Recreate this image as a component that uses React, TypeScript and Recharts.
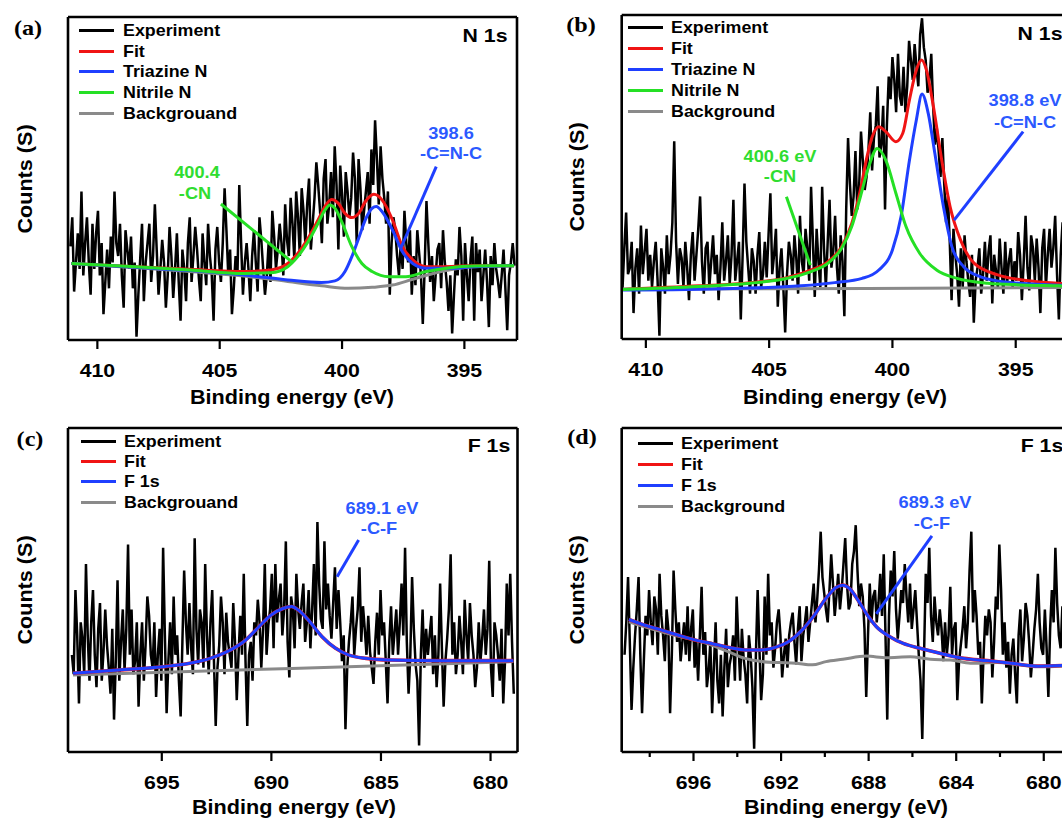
import React from 'react';
import { LineChart, Line, XAxis, YAxis, ReferenceLine } from 'recharts';

type P = [number, number];

const SANS = '"Liberation Sans", Arial, Helvetica, sans-serif';
const SERIF = '"Liberation Serif", "Times New Roman", serif';
const C_RED = '#f01414';
const C_BLUE = '#1f3fff';
const C_GREEN = '#25e025';
const C_GRAY = '#8a8a8a';
const C_BLUE_T = '#2b59ff';
const C_GREEN_T = '#30dd30';

// ---------- tick labels ----------
const nTicks = [410, 405, 400, 395];
const cTicks = [695, 690, 685, 680];
const dTicks = [698, 696, 694, 692, 690, 688, 686, 684, 682, 680];
const dMajor = [696, 692, 688, 684, 680];

// ---------- panel (a) N 1s ----------
const aStart = 411.1;
const aStep = 0.075;
const aExp = [29,38,15,24,33,22,46,20,30,38,
24,14,36,22,33,40,20,30,8,18,
28,16,32,24,46,30,26,36,20,10,
34,28,22,32,16,24,1,14,25,36,
12,24,30,36,18,26,42,28,14,22,
31,24,10,20,35,26,13,22,33,18,
6,28,22,12,30,38,18,26,35,28,
19,12,33,24,17,36,26,20,6,28,
35,24,18,30,47,34,20,28,8,16,
26,20,48,30,14,24,30,22,12,26,
34,24,15,38,31,22,14,20,30,18,
40,32,22,28,36,30,20,42,31,26,
44,36,25,46,38,26,47,40,30,42,
50,28,36,44,55,48,40,30,50,56,
36,42,52,38,60,48,28,54,45,32,
52,46,38,44,58,50,30,56,47,34,
40,46,52,36,59,48,68,56,42,60,
50,44,36,46,14,30,38,34,26,20,
30,22,40,30,24,34,14,26,17,34,
27,20,5,22,43,30,18,26,12,20,
28,30,16,34,24,18,9,20,2,14,
25,20,35,26,6,30,20,12,25,32,
6,30,21,28,12,20,28,18,4,26,
17,30,22,18,13,20,28,16,3,20,
24,30,23];
const aFit: P[] = [[411.06,23.7],[408.44,22.7],[406.23,21.9],[404.02,21.2],[402.91,21.7],[402.22,23.7],[401.81,26.8],[401.39,31.5],[400.98,37.2],[400.7,41.3],[400.43,43.5],[400.15,42.3],[399.88,39.2],[399.6,37.9],[399.32,39.2],[399.05,42.8],[398.7,45.1],[398.36,43.3],[397.94,37.2],[397.53,28.9],[397.11,24.8],[396.56,22.7],[396.01,22.7],[394.63,23.0],[392.97,23.0]];
const aNitrile: P[] = [[411.06,23.7],[408.44,22.7],[406.23,21.7],[404.02,20.6],[402.91,20.8],[402.22,22.7],[401.81,25.8],[401.39,30.4],[400.98,36.1],[400.7,40.2],[400.5,41.8],[400.29,40.8],[400.01,36.6],[399.6,28.9],[399.19,23.7],[398.77,21.2],[398.08,19.6],[397.39,19.6],[396.56,21.2],[395.59,22.4],[394.63,22.9],[392.97,23.0]];
const aTriazine: P[] = [[411.06,23.7],[408.44,22.5],[406.23,21.5],[404.02,20.1],[402.22,18.6],[400.84,17.8],[400.29,18.3],[399.88,21.2],[399.6,25.8],[399.32,31.5],[399.05,37.2],[398.77,40.8],[398.6,41.3],[398.36,39.7],[397.94,34.1],[397.53,27.3],[397.11,23.7],[396.56,22.2],[395.59,22.2],[394.63,22.7],[392.97,23.0]];
const aBackground: P[] = [[411.06,23.7],[408.44,22.4],[406.23,21.2],[404.02,19.8],[402.22,18.1],[400.84,16.8],[399.74,16.0],[398.77,16.3],[397.94,17.0],[397.11,18.8],[396.28,20.6],[395.46,21.9],[394.63,22.7],[392.97,23.0]];
const aGreenLead: P[] = [[404.95,42.1],[402.04,24.1]];
const aBlueLead: P[] = [[396.15,53.7],[397.6,28.4]];

// ---------- panel (b) N 1s ----------
const bStart = 410.95;
const bStep = 0.075;
const bExp = [15,28,39,20,22,30,8,22,28,14,
35,20,27,34,18,26,16,24,30,18,
1,28,22,14,32,20,26,36,61,30,
17,28,25,16,30,22,12,26,33,18,
26,34,44,24,14,28,30,16,24,32,
20,26,12,22,36,18,24,32,17,26,
43,18,24,30,6,26,48,30,22,14,
28,24,14,26,33,16,20,30,19,32,
45,20,26,34,10,22,28,16,2,20,
30,26,18,32,25,14,38,24,20,34,
28,18,47,30,13,34,24,16,47,28,
16,30,43,22,27,38,22,14,32,24,
7,40,62,48,38,44,58,40,47,64,
55,46,50,58,70,52,62,66,78,56,
60,72,40,66,81,74,87,80,70,88,
75,72,84,70,78,92,86,80,91,84,
78,94,99,90,86,76,80,88,72,60,
65,58,50,62,48,36,44,30,12,34,
26,20,10,28,16,32,24,18,13,26,
5,18,22,28,14,20,30,18,27,32,
11,26,21,16,31,22,14,30,17,24,
28,16,24,18,33,26,12,24,38,22,
15,32,28,18,31,22,8,28,34,16,
26,34,22,28,38,20,6,26,36,30,
18,36,30];
const bFit: P[] = [[410.94,15.3],[407.84,16.4],[405.78,17.4],[404.4,18.7],[403.3,21.3],[402.61,23.9],[402.06,28.5],[401.65,35.7],[401.3,46.0],[401.03,56.3],[400.82,62.4],[400.55,65.5],[400.27,64.0],[399.86,60.9],[399.58,63.5],[399.31,73.8],[399.03,83.0],[398.82,86.1],[398.62,83.0],[398.34,71.8],[398.0,55.2],[397.66,40.8],[397.24,30.6],[396.69,23.4],[395.73,19.8],[394.49,18.0],[393.25,17.2],[392.8,17.0]];
const bNitrile: P[] = [[410.94,15.3],[407.84,16.2],[405.78,17.2],[404.4,18.5],[403.3,20.8],[402.61,23.4],[402.06,28.0],[401.65,34.7],[401.3,43.9],[400.96,53.2],[400.62,58.8],[400.27,55.2],[399.86,45.0],[399.45,34.7],[398.89,26.4],[398.21,21.3],[397.38,18.7],[396.14,17.2],[394.77,16.7],[393.25,16.4],[392.8,16.3]];
const bTriazine: P[] = [[410.94,15.1],[406.46,15.6],[403.71,16.4],[402.34,17.4],[401.23,18.7],[400.55,21.3],[400.0,27.5],[399.65,37.8],[399.31,55.2],[399.03,67.6],[398.8,75.6],[398.55,69.7],[398.28,57.3],[397.93,40.8],[397.59,28.5],[397.11,22.3],[396.42,19.2],[395.18,17.4],[393.25,16.6],[392.8,16.5]];
const bBackground: P[] = [[410.94,15.4],[401.0,15.6],[392.8,15.9]];
const bGreenLead: P[] = [[404.3,43.9],[403.33,22.8]];
const bBlueLead: P[] = [[394.7,64.0],[397.5,36.7]];

// ---------- panel (c) F 1s ----------
const cStart = 699.1;
const cStep = 0.08;
const cExp = [30,24,50,36,15,40,35,24,58,36,
22,40,50,30,20,38,46,22,31,44,
33,26,18,38,10,28,53,22,34,44,
25,38,64,30,44,24,28,40,14,30,
40,22,33,48,42,30,26,40,17,30,
38,22,63,36,12,28,40,24,48,30,
36,22,11,34,56,40,30,46,32,24,
66,38,27,44,40,26,58,36,24,40,
50,28,8,26,33,48,40,24,43,34,
30,26,46,34,16,30,42,30,55,28,
8,30,34,22,40,36,47,40,26,38,
58,30,39,44,55,32,58,40,47,52,
36,44,65,34,23,48,44,32,55,44,
38,46,52,34,40,50,32,44,58,36,
71,52,41,38,65,44,52,42,35,46,
57,38,50,40,28,36,7,26,34,40,
48,30,38,44,57,34,45,38,30,42,
31,26,21,34,43,30,50,36,40,28,
15,34,45,30,37,44,30,40,52,36,
63,34,18,30,54,38,27,22,2,30,
44,26,38,30,36,42,24,36,20,30,
52,32,14,28,35,44,61,30,40,24,
30,42,34,24,47,36,28,46,36,30,
20,26,40,28,35,44,30,38,59,26,
17,40,36,30,22,38,15,28,52,36,
55,34,18];
const cFit: P[] = [[699.05,24.3],[696.96,25.3],[694.95,26.3],[693.72,27.4],[692.79,28.9],[691.86,31.5],[691.25,34.1],[690.63,38.2],[690.01,42.3],[689.47,44.3],[689.08,44.9],[688.77,43.8],[688.31,40.7],[687.69,35.6],[687.07,32.0],[686.46,29.9],[685.68,28.9],[684.6,28.4],[682.29,28.2],[678.96,28.2]];
const cF1s: P[] = [[699.05,24.3],[696.96,25.3],[694.95,26.3],[693.72,27.4],[692.79,28.9],[691.86,31.5],[691.25,34.1],[690.63,38.2],[690.01,42.3],[689.47,44.3],[689.08,44.9],[688.77,43.8],[688.31,40.7],[687.69,35.6],[687.07,32.0],[686.46,29.9],[685.68,28.9],[684.6,28.4],[682.29,28.2],[678.96,28.2]];
const cBackground: P[] = [[699.05,23.8],[689.08,25.8],[678.96,27.9]];
const cBlueLead: P[] = [[686.02,65.4],[687.0,54.1]];

// ---------- panel (d) F 1s ----------
const dStart = 699.15;
const dStep = 0.08;
const dExp = [30,40,54,34,13,26,36,44,54,30,
12,28,42,36,50,40,33,48,44,30,
55,42,36,28,44,38,12,30,56,44,
34,40,28,34,40,30,45,28,38,44,
26,34,22,36,51,30,37,20,25,34,
12,26,40,22,15,30,11,26,38,20,
27,30,36,22,48,34,22,38,29,24,
15,36,30,20,1,30,50,32,16,24,
48,30,55,36,40,26,32,40,44,36,
23,30,35,26,36,40,43,34,27,38,
45,28,36,40,45,34,40,46,52,40,
47,56,68,54,49,44,40,50,61,52,
42,48,55,44,50,58,66,52,44,46,
58,62,70,56,45,52,48,38,17,36,
52,40,48,50,40,46,55,42,61,36,
10,42,56,48,62,44,35,42,50,46,
58,48,40,52,38,44,50,40,30,22,
4,30,55,46,63,42,34,48,40,36,
44,38,28,40,30,36,51,30,38,40,
16,28,33,38,45,32,40,56,68,40,
50,42,30,34,15,30,42,36,44,40,
23,34,48,44,64,50,30,40,26,34,
18,30,35,24,15,36,44,28,35,46,
42,34,23,30,38,44,55,40,32,30,
44,32,17,38,50,40,63,46,36,32,
45,34,20,40,55];
const dFit: P[] = [[698.95,40.9],[698.26,39.2],[697.49,37.7],[696.72,36.1],[695.95,34.6],[695.18,33.5],[694.42,32.3],[693.65,31.5],[692.88,31.5],[692.26,32.3],[691.65,34.1],[691.03,37.7],[690.42,42.8],[689.95,47.4],[689.49,50.8],[689.18,51.5],[688.88,50.5],[688.49,46.9],[688.11,42.8],[687.65,38.7],[687.03,35.6],[686.42,33.5],[685.65,32.0],[684.88,30.7],[683.65,28.9],[682.57,28.2],[681.49,27.4],[680.26,26.5],[678.85,26.8]];
const dF1s: P[] = [[698.95,40.9],[698.26,39.2],[697.49,37.7],[696.72,36.1],[695.95,34.6],[695.18,33.5],[694.42,32.3],[693.65,31.5],[692.88,31.5],[692.26,32.3],[691.65,34.1],[691.03,37.7],[690.42,42.8],[689.95,47.4],[689.49,50.8],[689.18,51.5],[688.88,50.5],[688.49,46.9],[688.11,42.8],[687.65,38.7],[687.03,35.6],[686.42,33.5],[685.65,32.0],[684.88,30.7],[683.65,28.9],[682.57,28.2],[681.49,27.4],[680.26,26.5],[678.85,26.8]];
const dBackground: P[] = [[698.95,40.2],[698.26,38.7],[697.49,37.2],[696.72,35.8],[695.95,34.6],[695.18,33.0],[694.42,31.0],[693.65,28.9],[692.88,27.9],[692.11,27.6],[691.34,27.4],[690.57,26.9],[689.95,27.9],[689.18,28.6],[688.11,29.6],[687.18,29.1],[686.11,29.4],[685.18,28.6],[684.26,28.4],[683.34,27.4],[682.11,27.6],[681.18,26.9],[680.26,26.3],[678.85,26.6]];
const dBlueLead: P[] = [[685.11,66.7],[687.65,42.6]];

// ---------- helpers ----------
type Row = { e: number; v: number };
const toRows = (pts: P[]): Row[] => pts.map(([e, v]) => ({ e, v }));
const expRows = (start: number, step: number, vals: number[]): Row[] =>
  vals.map((v, i) => ({ e: Math.round((start - i * step) * 1000) / 1000, v }));

type Curve = { rows: Row[]; color: string; w: number; name: string };
type Seg = { pts: P[]; color: string };
interface Cfg {
  left: number; top: number; W: number; H: number;
  margin: { top: number; right: number; bottom: number; left: number };
  domain: [number, number];
  ticks: number[]; majors: number[];
  exp: Row[]; curves: Curve[]; segs: Seg[];
}

function Panel({ c }: { c: Cfg }) {
  const tick = (props: any) => {
    const { x, y, payload } = props;
    const val = payload.value;
    const major = c.majors.includes(val);
    return (
      <g>
        <line x1={x} y1={y} x2={x} y2={y + (major ? 9 : 5)} stroke="#000" strokeWidth={2.2} />
        {major && (
          <text transform={`translate(${x},${y + 37}) scale(1.12,1)`} textAnchor="middle"
            fontFamily={SANS} fontWeight={700} fontSize={19} fill="#000">{val}</text>
        )}
      </g>
    );
  };
  const axisLine = { stroke: '#000', strokeWidth: 2.6 };
  return (
    <div style={{ position: 'absolute', left: c.left, top: c.top, width: c.W, height: c.H }}>
      <LineChart width={c.W} height={c.H} margin={c.margin}>
        <XAxis xAxisId="b" type="number" dataKey="e" domain={c.domain} reversed allowDataOverflow
          ticks={c.ticks} interval={0} tickSize={0} tickMargin={0} tickLine={false} tick={tick}
          axisLine={axisLine} height={2} />
        <XAxis xAxisId="t" orientation="top" type="number" dataKey="e" domain={c.domain} reversed
          allowDataOverflow tick={false} tickLine={false} axisLine={axisLine} height={2} />
        <YAxis yAxisId="l" type="number" domain={[0, 100]} allowDataOverflow tick={false}
          tickLine={false} axisLine={axisLine} width={2} />
        <YAxis yAxisId="r" orientation="right" type="number" domain={[0, 100]} allowDataOverflow
          tick={false} tickLine={false} axisLine={axisLine} width={2} />
        <Line xAxisId="b" yAxisId="l" data={c.exp} dataKey="v" name="Experiment" type="linear"
          stroke="#000" strokeWidth={2.5} dot={false} activeDot={false} isAnimationActive={false} />
        {c.curves.map((cv, i) => (
          <Line key={i} xAxisId="b" yAxisId="l" data={cv.rows} dataKey="v" name={cv.name}
            type="monotone" stroke={cv.color} strokeWidth={cv.w} dot={false} activeDot={false}
            isAnimationActive={false} />
        ))}
        {c.segs.map((s, i) => (
          <ReferenceLine key={'s' + i} xAxisId="b" yAxisId="l" ifOverflow="visible"
            segment={[{ x: s.pts[0][0], y: s.pts[0][1] }, { x: s.pts[1][0], y: s.pts[1][1] }]}
            stroke={s.color} strokeWidth={3} />
        ))}
      </LineChart>
    </div>
  );
}

function T({ x, y, s = 20, c = '#000', f = SANS, sx = 1.08, rot = 0, children }:
  { x: number; y: number; s?: number; c?: string; f?: string; sx?: number; rot?: number; children: React.ReactNode }) {
  return (
    <div style={{
      position: 'absolute', left: x, top: y,
      transform: `translate(-50%,-50%)${rot ? ` rotate(${rot}deg)` : ''} scaleX(${sx})`,
      fontFamily: f, fontWeight: 700, fontSize: s, color: c, whiteSpace: 'nowrap', lineHeight: 1,
    }}>{children}</div>
  );
}

function Legend({ x, tx, ys, items }: { x: number; tx: number; ys: number[]; items: { label: string; color: string }[] }) {
  return (
    <>
      {items.map((it, i) => (
        <React.Fragment key={i}>
          <div style={{ position: 'absolute', left: x, top: ys[i] - 1.5, width: 35, height: 3, background: it.color }} />
          <div style={{
            position: 'absolute', left: tx, top: ys[i], transform: 'translateY(-50%) scaleX(1.05)',
            transformOrigin: 'left center', fontFamily: SANS, fontWeight: 700, fontSize: 17,
            lineHeight: 1, whiteSpace: 'nowrap', color: '#000',
          }}>{it.label}</div>
        </React.Fragment>
      ))}
    </>
  );
}

const aLegend = [
  { label: 'Experiment', color: '#000' }, { label: 'Fit', color: C_RED },
  { label: 'Triazine N', color: C_BLUE }, { label: 'Nitrile N', color: C_GREEN },
  { label: 'Backgrouand', color: C_GRAY },
];
const bLegend = [
  { label: 'Experiment', color: '#000' }, { label: 'Fit', color: C_RED },
  { label: 'Triazine N', color: C_BLUE }, { label: 'Nitrile N', color: C_GREEN },
  { label: 'Background', color: C_GRAY },
];
const cLegend = [
  { label: 'Experiment', color: '#000' }, { label: 'Fit', color: C_RED },
  { label: 'F 1s', color: C_BLUE }, { label: 'Backgrouand', color: C_GRAY },
];
const dLegend = [
  { label: 'Experiment', color: '#000' }, { label: 'Fit', color: C_RED },
  { label: 'F 1s', color: C_BLUE }, { label: 'Background', color: C_GRAY },
];

export default function App() {
  const A: Cfg = {
    left: 0, top: 0, W: 531, H: 410,
    margin: { top: 15, left: 66, right: 12, bottom: 68 },
    domain: [392.85, 411.2], ticks: nTicks, majors: nTicks,
    exp: expRows(aStart, aStep, aExp),
    curves: [
      { rows: toRows(aBackground), color: C_GRAY, w: 3, name: 'Backgrouand' },
      { rows: toRows(aFit), color: C_RED, w: 3, name: 'Fit' },
      { rows: toRows(aTriazine), color: C_BLUE, w: 3, name: 'Triazine N' },
      { rows: toRows(aNitrile), color: C_GREEN, w: 3, name: 'Nitrile N' },
    ],
    segs: [{ pts: aGreenLead, color: C_GREEN }, { pts: aBlueLead, color: C_BLUE }],
  };
  const B: Cfg = {
    left: 531, top: 0, W: 560, H: 410,
    margin: { top: 13, left: 88.7, right: 18.3, bottom: 69 },
    domain: [392.77, 410.98], ticks: nTicks, majors: nTicks,
    exp: expRows(bStart, bStep, bExp),
    curves: [
      { rows: toRows(bBackground), color: C_GRAY, w: 3, name: 'Background' },
      { rows: toRows(bFit), color: C_RED, w: 3, name: 'Fit' },
      { rows: toRows(bTriazine), color: C_BLUE, w: 3, name: 'Triazine N' },
      { rows: toRows(bNitrile), color: C_GREEN, w: 3, name: 'Nitrile N' },
    ],
    segs: [{ pts: bGreenLead, color: C_GREEN }, { pts: bBlueLead, color: C_BLUE }],
  };
  const Cc: Cfg = {
    left: 0, top: 410, W: 531, H: 411,
    margin: { top: 16, left: 66, right: 11.5, bottom: 67 },
    domain: [678.77, 699.28], ticks: cTicks, majors: cTicks,
    exp: expRows(cStart, cStep, cExp),
    curves: [
      { rows: toRows(cBackground), color: C_GRAY, w: 3, name: 'Backgrouand' },
      { rows: toRows(cFit), color: C_RED, w: 3.6, name: 'Fit' },
      { rows: toRows(cF1s), color: C_BLUE, w: 3, name: 'F 1s' },
    ],
    segs: [{ pts: cBlueLead, color: C_BLUE }],
  };
  const D: Cfg = {
    left: 531, top: 410, W: 560, H: 411,
    margin: { top: 16, left: 88.7, right: 18.3, bottom: 67 },
    domain: [678.77, 699.28], ticks: dTicks, majors: dMajor,
    exp: expRows(dStart, dStep, dExp),
    curves: [
      { rows: toRows(dBackground), color: C_GRAY, w: 3, name: 'Background' },
      { rows: toRows(dFit), color: C_RED, w: 3.6, name: 'Fit' },
      { rows: toRows(dF1s), color: C_BLUE, w: 3, name: 'F 1s' },
    ],
    segs: [{ pts: dBlueLead, color: C_BLUE }],
  };

  return (
    <div style={{ position: 'fixed', left: 0, top: 0, width: 1062, height: 821, overflow: 'hidden', background: '#fff' }}>
      <Panel c={A} />
      <Panel c={B} />
      <Panel c={Cc} />
      <Panel c={D} />

      {/* panel letters */}
      <T x={28} y={28} s={22} f={SERIF} sx={1.1}>(a)</T>
      <T x={581} y={25} s={22} f={SERIF} sx={1.1}>(b)</T>
      <T x={29.5} y={439} s={22} f={SERIF} sx={1.1}>(c)</T>
      <T x={582} y={437} s={22} f={SERIF} sx={1.1}>(d)</T>

      {/* titles */}
      <T x={485} y={35} s={19} sx={1.12}>N 1s</T>
      <T x={1040} y={33} s={19} sx={1.12}>N 1s</T>
      <T x={489} y={445} s={19} sx={1.12}>F 1s</T>
      <T x={1042} y={445} s={19} sx={1.12}>F 1s</T>

      {/* axis titles */}
      <T x={292} y={397} s={20}>Binding energy (eV)</T>
      <T x={845} y={397} s={20}>Binding energy (eV)</T>
      <T x={293.5} y={807} s={20}>Binding energy (eV)</T>
      <T x={845.6} y={807} s={20}>Binding energy (eV)</T>
      <T x={25} y={178.5} s={20} rot={-90}>Counts (S)</T>
      <T x={577} y={177} s={20} rot={-90}>Counts (S)</T>
      <T x={25} y={590} s={20} rot={-90}>Counts (S)</T>
      <T x={577} y={590} s={20} rot={-90}>Counts (S)</T>

      {/* annotations */}
      <T x={197} y={172} s={17} c={C_GREEN_T} sx={1.07}>400.4</T>
      <T x={195} y={192.5} s={17} c={C_GREEN_T} sx={1.07}>-CN</T>
      <T x={451} y={133} s={17} c={C_BLUE_T} sx={1.07}>398.6</T>
      <T x={451} y={153} s={17} c={C_BLUE_T} sx={1.07}>-C=N-C</T>
      <T x={780} y={156} s={17} c={C_GREEN_T} sx={1.07}>400.6 eV</T>
      <T x={780} y={176} s={17} c={C_GREEN_T} sx={1.07}>-CN</T>
      <T x={1025} y={100} s={17} c={C_BLUE_T} sx={1.07}>398.8 eV</T>
      <T x={1025} y={122} s={17} c={C_BLUE_T} sx={1.07}>-C=N-C</T>
      <T x={381.7} y={508} s={17} c={C_BLUE_T} sx={1.07}>689.1 eV</T>
      <T x={378.5} y={528} s={17} c={C_BLUE_T} sx={1.07}>-C-F</T>
      <T x={934.5} y={502} s={17} c={C_BLUE_T} sx={1.07}>689.3 eV</T>
      <T x={931.5} y={523} s={17} c={C_BLUE_T} sx={1.07}>-C-F</T>

      {/* legends */}
      <Legend x={79} tx={122.7} ys={[30, 51, 71, 92, 113]} items={aLegend} />
      <Legend x={628} tx={670.5} ys={[27, 48, 69, 90, 111]} items={bLegend} />
      <Legend x={81} tx={124.4} ys={[441, 461, 481, 502]} items={cLegend} />
      <Legend x={638} tx={681.2} ys={[443, 464, 485, 506]} items={dLegend} />
    </div>
  );
}
